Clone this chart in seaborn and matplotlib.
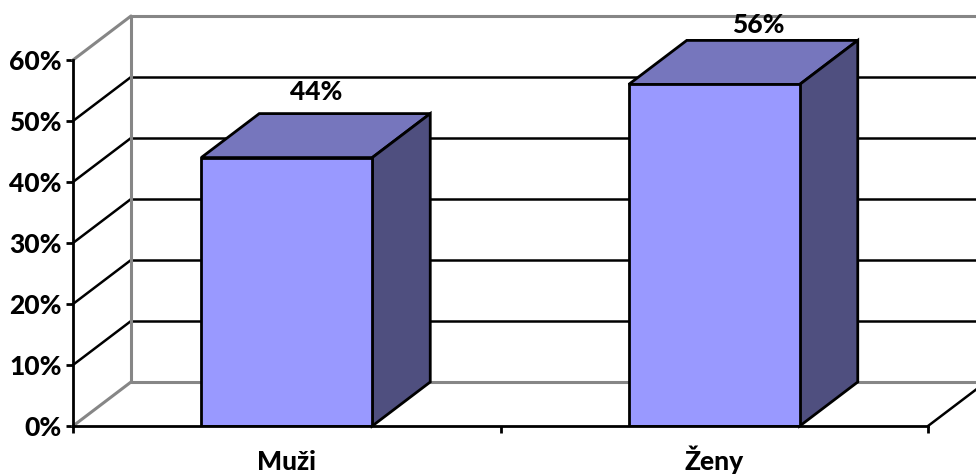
import matplotlib
matplotlib.use("Agg")
import matplotlib.pyplot as plt
import seaborn as sns

categories = ["Muži", "Ženy"]
values = [44, 56]
y_ticks = [0, 10, 20, 30, 40, 50, 60]

sns.set_style("white")
plt.rcParams['font.family'] = ['Lato', 'DejaVu Sans']

W, H = 976, 475
fig = plt.figure(figsize=(W / 100, H / 100), dpi=100)
# front plane of the 3d box, in pixels of the reference
ax = fig.add_axes([73 / W, (H - 426) / H, 855 / W, 366 / H])

sns.barplot(x=categories, y=values, color="#9999FF", saturation=1, width=0.4,
            edgecolor="black", linewidth=2, ax=ax, zorder=3)
ax.set_xlim(-0.5, 1.5)
ax.set_ylim(0, 60)

# depth offset of the fake 3d, converted to data units
dx = 58 / (855 / 2)
dy = 44 / (366 / 60)
gray = "#868686"

# walls and gridlines
ax.plot([-0.5, -0.5 + dx], [60, 60 + dy], color=gray, lw=2.2, clip_on=False, zorder=1)
ax.plot([-0.5, -0.5 + dx], [0, dy], color=gray, lw=2.2, clip_on=False, zorder=1)
ax.plot([-0.5 + dx, -0.5 + dx], [dy, 60 + dy], color=gray, lw=2.2, clip_on=False, zorder=1.5)
ax.plot([-0.5 + dx, 1.5 + dx], [60 + dy, 60 + dy], color=gray, lw=2.2, clip_on=False, zorder=1)
ax.plot([-0.5 + dx, 1.5 + dx], [dy, dy], color=gray, lw=2.2, clip_on=False, zorder=1)
for t in y_ticks[1:-1]:
    ax.plot([-0.5, -0.5 + dx], [t, t + dy], color="black", lw=1.8, clip_on=False, zorder=1)
    ax.plot([-0.5 + dx, 1.5 + dx], [t + dy, t + dy], color="black", lw=1.8, clip_on=False, zorder=1)
ax.plot([1.5, 1.5 + dx], [0, dy], color="black", lw=1.8, clip_on=False, zorder=1)

# top and side faces of each bar
for bar, v, lx, ly in zip(ax.patches, values, [0, 15], [22, 15]):
    x0 = bar.get_x()
    x1 = x0 + bar.get_width()
    ax.fill([x0, x1, x1 + dx, x0 + dx], [v, v, v + dy, v + dy], facecolor="#7676BD",
            edgecolor="black", lw=2, clip_on=False, zorder=2.5)
    ax.fill([x1, x1 + dx, x1 + dx, x1], [0, dy, v + dy, v], facecolor="#4F4F7F",
            edgecolor="black", lw=2, clip_on=False, zorder=2.5)
    ax.annotate(f"{v}%", (x0 + bar.get_width() / 2 + dx / 2, v + dy), xytext=(lx * 0.72, ly * 0.72),
                textcoords="offset points", ha="center", va="center", fontsize=19,
                fontweight="black", color="black", annotation_clip=False, zorder=5)

sns.despine(ax=ax, top=True, right=True)
for side in ["left", "bottom"]:
    ax.spines[side].set_color("black")
    ax.spines[side].set_linewidth(2)
    ax.spines[side].set_zorder(4)

ax.set_yticks(y_ticks)
ax.set_yticklabels([f"{t}%" for t in y_ticks], fontsize=19, fontweight="black", color="black")
ax.set_xticks([-0.5, 0.5, 1.5], minor=False)
ax.set_xticklabels(["", "", ""])
ax.tick_params(axis="both", length=5, width=2, color="black", left=True, bottom=True, pad=3)
for i, c in enumerate(categories):
    ax.annotate(c, (i, 0), xytext=(0, -31.5), textcoords="offset points", ha="center", va="baseline",
                fontsize=19, fontweight="black", color="black", annotation_clip=False)
ax.set_xlabel("")
ax.set_ylabel("")

fig.savefig("out.png", dpi=100)
